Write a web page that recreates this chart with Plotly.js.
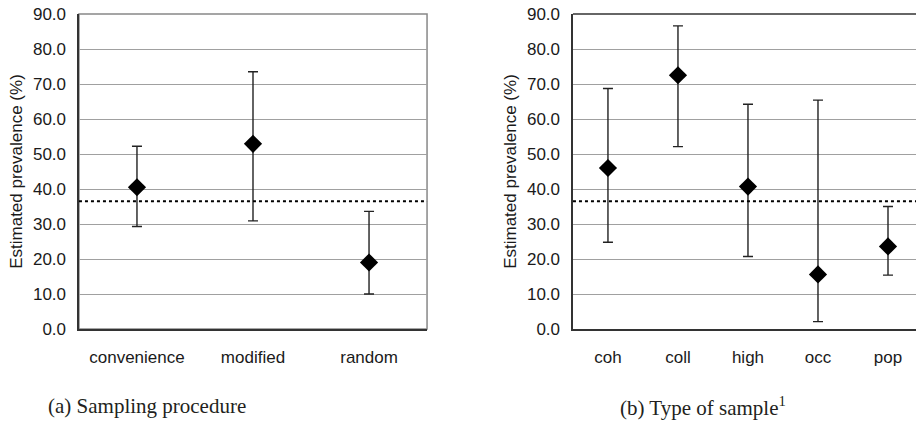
<!DOCTYPE html>
<html>
<head>
<meta charset="utf-8">
<script src="https://cdn.plot.ly/plotly-3.0.1.min.js"></script>
<style>html,body{margin:0;padding:0;background:#fff;}#chart{width:916px;height:434px;}</style>
</head>
<body>
<div id="chart"></div>
<script>
// Panel (a): Sampling procedure
const catsA = ["convenience", "modified", "random"];
const estA = [40.5, 52.9, 19.0];
const upperA = [52.2, 73.5, 33.6];
const lowerA = [29.3, 30.9, 10.0];

// Panel (b): Type of sample
const catsB = ["coh", "coll", "high", "occ", "pop"];
const estB = [46.0, 72.5, 40.7, 15.6, 23.6];
const upperB = [68.7, 86.6, 64.2, 65.4, 35.0];
const lowerB = [24.8, 52.1, 20.7, 2.1, 15.4];

// Overall pooled prevalence (dotted reference line)
const overall = 36.5;

const yTicks = [0, 10, 20, 30, 40, 50, 60, 70, 80, 90];
const yTickText = yTicks.map(v => v.toFixed(1));

function trace(cats, est, up, lo, xa, ya) {
  return {
    type: "scatter", mode: "markers", x: cats, y: est, xaxis: xa, yaxis: ya,
    marker: {symbol: "diamond", size: 14, color: "#000"},
    error_y: {type: "data", symmetric: false,
      array: up.map((u, i) => u - est[i]),
      arrayminus: lo.map((l, i) => est[i] - l),
      color: "#222", thickness: 1.4, width: 5},
    showlegend: false, hoverinfo: "x+y"
  };
}

const tickFont = {family: "Liberation Sans, Arial, sans-serif", size: 17, color: "#1a1a1a"};
const titleFont = {family: "Liberation Sans, Arial, sans-serif", size: 17, color: "#1a1a1a"};

function yax(anchor) {
  return {
    anchor: anchor, range: [0, 90], tickvals: yTicks, ticktext: yTickText,
    showgrid: true, gridcolor: "#a0a0a0", gridwidth: 1, zeroline: false,
    showline: true, linecolor: "#333", linewidth: 1.5, ticks: "",
    tickfont: tickFont, ticklabelstandoff: 8, domain: [0.2419, 0.9677],
    title: {text: "Estimated prevalence (%)", font: titleFont, standoff: 6},
    automargin: false, fixedrange: true
  };
}
function xax(anchor, domain, range) {
  return {
    anchor: anchor, domain: domain, range: range, type: "category",
    showgrid: false, zeroline: false, showline: true, linecolor: "#333", linewidth: 1.5,
    ticks: "", tickfont: tickFont, ticklabelstandoff: 12, automargin: false, fixedrange: true
  };
}

const data = [
  trace(catsA, estA, upperA, lowerA, "x", "y"),
  trace(catsB, estB, upperB, lowerB, "x2", "y2")
];

const layout = {
  width: 916, height: 434,
  margin: {l: 0, r: 0, t: 0, b: 0},
  paper_bgcolor: "#fff", plot_bgcolor: "#fff",
  xaxis: xax("y", [0.0862, 0.4662], [-0.5, 2.5]),
  yaxis: yax("x"),
  xaxis2: xax("y2", [0.6255, 1.0], [-0.5, 4.4]),
  yaxis2: yax("x2"),
  shapes: [
    {type: "rect", xref: "x domain", yref: "y domain", x0: 0, x1: 1, y0: 0, y1: 1,
     line: {color: "#888", width: 1.5}, layer: "below"},
    {type: "line", xref: "x2 domain", yref: "y2 domain", x0: 0, x1: 1, y0: 1, y1: 1,
     line: {color: "#333", width: 1.5}, layer: "below"},
    {type: "line", xref: "x domain", yref: "y", x0: 0, x1: 1, y0: overall, y1: overall,
     line: {color: "#000", width: 2, dash: "dot"}},
    {type: "line", xref: "x2 domain", yref: "y2", x0: 0, x1: 1, y0: overall, y1: overall,
     line: {color: "#000", width: 2, dash: "dot"}}
  ],
  annotations: [
    {text: "(a) Sampling procedure", xref: "paper", yref: "paper", x: 147 / 916, y: 1 - 406 / 434,
     xanchor: "center", yanchor: "middle", showarrow: false,
     font: {family: "Liberation Serif, Times New Roman, serif", size: 21, color: "#231f20"}},
    {text: "(b) Type of sample<sup>1</sup>", xref: "paper", yref: "paper", x: 703 / 916, y: 1 - 406 / 434,
     xanchor: "center", yanchor: "middle", showarrow: false,
     font: {family: "Liberation Serif, Times New Roman, serif", size: 21, color: "#231f20"}}
  ]
};

Plotly.newPlot("chart", data, layout, {displayModeBar: false, staticPlot: true});
</script>
</body>
</html>
